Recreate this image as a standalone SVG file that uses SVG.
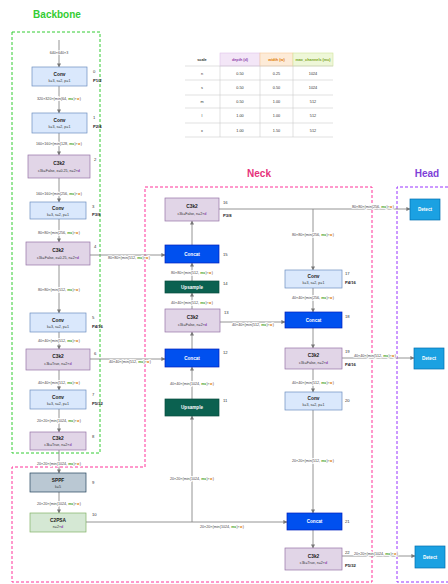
<svg xmlns="http://www.w3.org/2000/svg" width="448" height="584" viewBox="0 0 448 584">
<defs>
<marker id="ah" markerWidth="4" markerHeight="4" refX="3.6" refY="2" orient="auto" markerUnits="userSpaceOnUse"><path d="M0,0 L4,2 L0,4 Z" fill="#777"/></marker>
<style>
text{font-family:"Liberation Sans",Arial,sans-serif;text-anchor:middle}
.title{font-size:10px;font-weight:bold}
.nt{font-size:4.8px;font-weight:bold;fill:#222}
.ns{font-size:3.6px;fill:#333}
.wt{font-size:4.6px;font-weight:bold;fill:#fff}
.idx{font-size:4.2px;fill:#333;text-anchor:start}
.pl{font-size:4.2px;font-weight:bold;fill:#222;text-anchor:start}
.lbl{font-size:3.7px;fill:#444;paint-order:stroke;stroke:#fff;stroke-width:1.6px}
.mc{fill:#3a9a1a;font-weight:bold}
.w{fill:#e07800;font-weight:bold}
.d{fill:#8e44ad;font-weight:bold}
.conv{fill:#dae8fc;stroke:#6c8ebf;stroke-width:0.7}
.c3k2{fill:#e1d5e7;stroke:#9673a6;stroke-width:0.7}
.sppf{fill:#bac8d3;stroke:#23445d;stroke-width:0.7}
.c2psa{fill:#d5e8d4;stroke:#82b366;stroke-width:0.7}
.concat{fill:#0050ef;stroke:#001dbc;stroke-width:0.7}
.ups{fill:#0b6150;stroke:#084a3c;stroke-width:0.7}
.det{fill:#1ba1e2;stroke:#006eaf;stroke-width:0.7}
.edge{fill:none;stroke:#888;stroke-width:0.9}
.arr{marker-end:url(#ah)}
.tc{font-size:3.8px;fill:#333}
.th{font-size:3.8px;font-weight:bold}
.grid{stroke:#ccc;stroke-width:0.6}
</style>
</defs>
<rect width="448" height="584" fill="#fff"/>

<!-- regions -->
<g id="regions">
<rect x="12" y="32" width="88" height="421" fill="none" stroke="#33cc33" stroke-width="1" stroke-dasharray="3 2"/>
<path d="M145,187 H372 V582 H12 V467 H145 Z" fill="none" stroke="#ff3399" stroke-width="1" stroke-dasharray="3 2"/>
<path d="M448,187 H397 V582 H448" fill="none" stroke="#9933ff" stroke-width="1" stroke-dasharray="3 2"/>
<text class="title" x="57" y="18" fill="#33cc33">Backbone</text>
<text class="title" x="259" y="177" fill="#e6317b">Neck</text>
<text class="title" x="427" y="177" fill="#7e3fd8">Head</text>
</g>

<!-- table -->
<g id="table">
<rect x="185" y="53" width="35" height="13" fill="#fff"/>
<rect x="220" y="53" width="40" height="13" fill="#f3e6f7" stroke="#e0c4ea" stroke-width="0.6"/>
<rect x="260" y="53" width="33" height="13" fill="#fdebd8" stroke="#f7c999" stroke-width="0.6"/>
<rect x="293" y="53" width="40" height="13" fill="#eef7d8" stroke="#cfe59a" stroke-width="0.6"/>
<text class="th" x="202" y="61" fill="#333">scale</text>
<text class="th" x="240" y="61" fill="#8e44ad">depth (d)</text>
<text class="th" x="276.5" y="61" fill="#e07800">width (w)</text>
<text class="th" x="313" y="61" fill="#7aa51a">max_channels (mc)</text>
<line class="grid" x1="185" y1="66" x2="333" y2="66"/>
<line class="grid" x1="185" y1="80" x2="333" y2="80"/>
<line class="grid" x1="185" y1="95" x2="333" y2="95" stroke="#aaa"/>
<line class="grid" x1="185" y1="108" x2="333" y2="108"/>
<line class="grid" x1="185" y1="123" x2="333" y2="123" stroke="#999"/>
<line class="grid" x1="185" y1="137" x2="333" y2="137"/>
<line class="grid" x1="220" y1="66" x2="220" y2="137"/>
<line class="grid" x1="260" y1="66" x2="260" y2="137"/>
<line class="grid" x1="293" y1="66" x2="293" y2="137" stroke="#999"/>
<text class="tc" x="202" y="75">n</text><text class="tc" x="240" y="75">0.50</text><text class="tc" x="276.5" y="75">0.25</text><text class="tc" x="313" y="75">1024</text>
<text class="tc" x="202" y="89">s</text><text class="tc" x="240" y="89">0.50</text><text class="tc" x="276.5" y="89">0.50</text><text class="tc" x="313" y="89">1024</text>
<text class="tc" x="202" y="103">m</text><text class="tc" x="240" y="103">0.50</text><text class="tc" x="276.5" y="103">1.00</text><text class="tc" x="313" y="103">512</text>
<text class="tc" x="202" y="117">l</text><text class="tc" x="240" y="117">1.00</text><text class="tc" x="276.5" y="117">1.00</text><text class="tc" x="313" y="117">512</text>
<text class="tc" x="202" y="132">x</text><text class="tc" x="240" y="132">1.00</text><text class="tc" x="276.5" y="132">1.50</text><text class="tc" x="313" y="132">512</text>
</g>

<!-- connectors -->
<g id="connectors">
<line class="edge arr" x1="59" y1="40" x2="59" y2="67"/>
<line class="edge arr" x1="59" y1="86" x2="59" y2="113"/>
<line class="edge arr" x1="59" y1="133" x2="59" y2="155"/>
<line class="edge arr" x1="59" y1="178" x2="59" y2="202"/>
<line class="edge arr" x1="59" y1="218" x2="59" y2="242"/>
<line class="edge arr" x1="59" y1="265" x2="59" y2="313"/>
<line class="edge arr" x1="59" y1="332" x2="59" y2="349"/>
<line class="edge arr" x1="59" y1="370" x2="59" y2="390"/>
<line class="edge arr" x1="59" y1="409" x2="59" y2="432"/>
<line class="edge arr" x1="59" y1="450" x2="59" y2="473"/>
<line class="edge arr" x1="59" y1="492" x2="59" y2="513"/>
<line class="edge arr" x1="90" y1="255" x2="165" y2="255"/>
<line class="edge arr" x1="90" y1="359" x2="165" y2="359"/>
<line class="edge arr" x1="86" y1="522" x2="287" y2="522"/>
<line class="edge arr" x1="192" y1="522" x2="192" y2="416"/>
<line class="edge arr" x1="192" y1="399" x2="192" y2="367"/>
<line class="edge arr" x1="192" y1="349" x2="192" y2="332"/>
<line class="edge arr" x1="192" y1="309" x2="192" y2="293"/>
<line class="edge arr" x1="192" y1="281" x2="192" y2="263"/>
<line class="edge arr" x1="192" y1="245" x2="192" y2="221"/>
<line class="edge arr" x1="219" y1="209" x2="410" y2="209"/>
<line class="edge arr" x1="313" y1="209" x2="313" y2="270"/>
<line class="edge arr" x1="313" y1="288" x2="313" y2="312"/>
<line class="edge arr" x1="220" y1="322" x2="285" y2="322"/>
<line class="edge arr" x1="313" y1="328" x2="313" y2="348"/>
<line class="edge arr" x1="342" y1="358" x2="414" y2="358"/>
<line class="edge arr" x1="313" y1="369" x2="313" y2="392"/>
<line class="edge arr" x1="313" y1="410" x2="313" y2="513"/>
<line class="edge arr" x1="313" y1="530" x2="313" y2="548"/>
<line class="edge arr" x1="342" y1="556" x2="415" y2="556"/>

<text class="lbl" x="59" y="53.5">640×640×3</text>
<text class="lbl" x="59" y="99.5">320×320×(min(64, <tspan class="mc">mc</tspan>)×<tspan class="w">w</tspan>)</text>
<text class="lbl" x="59" y="144.5">160×160×(min(128, <tspan class="mc">mc</tspan>)×<tspan class="w">w</tspan>)</text>
<text class="lbl" x="59" y="194.5">160×160×(min(256, <tspan class="mc">mc</tspan>)×<tspan class="w">w</tspan>)</text>
<text class="lbl" x="59" y="233.5">80×80×(min(256, <tspan class="mc">mc</tspan>)×<tspan class="w">w</tspan>)</text>
<text class="lbl" x="59" y="290.5">80×80×(min(512, <tspan class="mc">mc</tspan>)×<tspan class="w">w</tspan>)</text>
<text class="lbl" x="59" y="341.5">40×40×(min(512, <tspan class="mc">mc</tspan>)×<tspan class="w">w</tspan>)</text>
<text class="lbl" x="59" y="383.5">40×40×(min(512, <tspan class="mc">mc</tspan>)×<tspan class="w">w</tspan>)</text>
<text class="lbl" x="59" y="421.5">20×20×(min(1024, <tspan class="mc">mc</tspan>)×<tspan class="w">w</tspan>)</text>
<text class="lbl" x="59" y="464.5">20×20×(min(1024, <tspan class="mc">mc</tspan>)×<tspan class="w">w</tspan>)</text>
<text class="lbl" x="59" y="504.5">20×20×(min(1024, <tspan class="mc">mc</tspan>)×<tspan class="w">w</tspan>)</text>
<text class="lbl" x="129" y="259">80×80×(min(512, <tspan class="mc">mc</tspan>)×<tspan class="w">w</tspan>)</text>
<text class="lbl" x="130" y="363">40×40×(min(512, <tspan class="mc">mc</tspan>)×<tspan class="w">w</tspan>)</text>
<text class="lbl" x="222" y="528">20×20×(min(1024, <tspan class="mc">mc</tspan>)×<tspan class="w">w</tspan>)</text>
<text class="lbl" x="192" y="479.5">20×20×(min(1024, <tspan class="mc">mc</tspan>)×<tspan class="w">w</tspan>)</text>
<text class="lbl" x="192" y="384.5">40×40×(min(1024, <tspan class="mc">mc</tspan>)×<tspan class="w">w</tspan>)</text>
<text class="lbl" x="192" y="303.5">40×40×(min(512, <tspan class="mc">mc</tspan>)×<tspan class="w">w</tspan>)</text>
<text class="lbl" x="192" y="273.5">80×80×(min(512, <tspan class="mc">mc</tspan>)×<tspan class="w">w</tspan>)</text>
<text class="lbl" x="373" y="208">80×80×(min(256, <tspan class="mc">mc</tspan>)×<tspan class="w">w</tspan>)</text>
<text class="lbl" x="313" y="235.5">80×80×(min(256, <tspan class="mc">mc</tspan>)×<tspan class="w">w</tspan>)</text>
<text class="lbl" x="313" y="298.5">40×40×(min(256, <tspan class="mc">mc</tspan>)×<tspan class="w">w</tspan>)</text>
<text class="lbl" x="253" y="325.5">40×40×(min(512, <tspan class="mc">mc</tspan>)×<tspan class="w">w</tspan>)</text>
<text class="lbl" x="375" y="357">40×40×(min(512, <tspan class="mc">mc</tspan>)×<tspan class="w">w</tspan>)</text>
<text class="lbl" x="313" y="383.5">40×40×(min(512, <tspan class="mc">mc</tspan>)×<tspan class="w">w</tspan>)</text>
<text class="lbl" x="313" y="461.5">20×20×(min(512, <tspan class="mc">mc</tspan>)×<tspan class="w">w</tspan>)</text>
<text class="lbl" x="376" y="555">20×20×(min(1024, <tspan class="mc">mc</tspan>)×<tspan class="w">w</tspan>)</text>
</g>

<!-- backbone nodes -->
<g id="n0"><rect class="conv" x="32" y="67" width="55" height="19"/><text class="nt" x="59.5" y="75.5">Conv</text><text class="ns" x="59.5" y="81.5">k=3, s=2, p=1</text><text class="idx" x="93" y="73">0</text><text class="pl" x="93" y="82">P1/2</text></g>
<g id="n1"><rect class="conv" x="32" y="113" width="55" height="20"/><text class="nt" x="59.5" y="122">Conv</text><text class="ns" x="59.5" y="128">k=3, s=2, p=1</text><text class="idx" x="93" y="119">1</text><text class="pl" x="93" y="128">P2/4</text></g>
<g id="n2"><rect class="c3k2" x="28" y="155" width="62" height="23"/><text class="nt" x="59" y="165">C3k2</text><text class="ns" x="59" y="171.5">c3k=False, e=0.25, n=2×<tspan class="d">d</tspan></text><text class="idx" x="94" y="161">2</text></g>
<g id="n3"><rect class="conv" x="30" y="202" width="56" height="17"/><text class="nt" x="58" y="209.5">Conv</text><text class="ns" x="58" y="215.5">k=3, s=2, p=1</text><text class="idx" x="92" y="208">3</text><text class="pl" x="92" y="216">P3/8</text></g>
<g id="n4"><rect class="c3k2" x="26" y="242" width="64" height="23"/><text class="nt" x="58" y="252">C3k2</text><text class="ns" x="58" y="258.5">c3k=False, e=0.25, n=2×<tspan class="d">d</tspan></text><text class="idx" x="94" y="248">4</text></g>
<g id="n5"><rect class="conv" x="30" y="313" width="56" height="19"/><text class="nt" x="58" y="321.5">Conv</text><text class="ns" x="58" y="327.5">k=3, s=2, p=1</text><text class="idx" x="92" y="319">5</text><text class="pl" x="92" y="328">P4/16</text></g>
<g id="n6"><rect class="c3k2" x="26" y="349" width="64" height="21"/><text class="nt" x="58" y="358">C3k2</text><text class="ns" x="58" y="364.5">c3k=True, n=2×<tspan class="d">d</tspan></text><text class="idx" x="94" y="355">6</text></g>
<g id="n7"><rect class="conv" x="30" y="390" width="56" height="19"/><text class="nt" x="58" y="398.5">Conv</text><text class="ns" x="58" y="404.5">k=3, s=2, p=1</text><text class="idx" x="92" y="396">7</text><text class="pl" x="92" y="405">P5/32</text></g>
<g id="n8"><rect class="c3k2" x="30" y="432" width="56" height="18"/><text class="nt" x="58" y="440">C3k2</text><text class="ns" x="58" y="446">c3k=True, n=2×<tspan class="d">d</tspan></text><text class="idx" x="92" y="438">8</text></g>
<g id="n9"><rect class="sppf" x="30" y="473" width="56" height="19"/><text class="nt" x="58" y="481.5">SPPF</text><text class="ns" x="58" y="487.5">k=5</text><text class="idx" x="92" y="484">9</text></g>
<g id="n10"><rect class="c2psa" x="30" y="513" width="56" height="19"/><text class="nt" x="58" y="521.5">C2PSA</text><text class="ns" x="58" y="527.5">n=2×<tspan class="d">d</tspan></text><text class="idx" x="92" y="516">10</text></g>

<!-- neck middle column -->
<g id="n11"><rect class="ups" x="165" y="399" width="54" height="17"/><text class="wt" x="192" y="409">Upsample</text><text class="idx" x="223" y="402">11</text></g>
<g id="n12"><rect class="concat" x="165" y="349" width="54" height="18"/><text class="wt" x="192" y="359.5">Concat</text><text class="idx" x="223" y="354">12</text></g>
<g id="n13"><rect class="c3k2" x="165" y="309" width="55" height="23"/><text class="nt" x="192.5" y="319">C3k2</text><text class="ns" x="192.5" y="325.5">c3k=False, n=2×<tspan class="d">d</tspan></text><text class="idx" x="224" y="314">13</text></g>
<g id="n14"><rect class="ups" x="165" y="281" width="54" height="12"/><text class="wt" x="192" y="288.5">Upsample</text><text class="idx" x="223" y="285">14</text></g>
<g id="n15"><rect class="concat" x="165" y="245" width="54" height="18"/><text class="wt" x="192" y="255.5">Concat</text><text class="idx" x="223" y="256">15</text></g>
<g id="n16"><rect class="c3k2" x="165" y="198" width="54" height="23"/><text class="nt" x="192" y="208">C3k2</text><text class="ns" x="192" y="214.5">c3k=False, n=2×<tspan class="d">d</tspan></text><text class="idx" x="223" y="204">16</text><text class="pl" x="223" y="217">P3/8</text></g>

<!-- neck right column -->
<g id="n17"><rect class="conv" x="285" y="270" width="57" height="18"/><text class="nt" x="313.5" y="278">Conv</text><text class="ns" x="313.5" y="284">k=3, s=2, p=1</text><text class="idx" x="345" y="275">17</text><text class="pl" x="345" y="284">P4/16</text></g>
<g id="n18"><rect class="concat" x="285" y="312" width="57" height="16"/><text class="wt" x="313.5" y="321.5">Concat</text><text class="idx" x="345" y="318">18</text></g>
<g id="n19"><rect class="c3k2" x="285" y="348" width="57" height="21"/><text class="nt" x="313.5" y="357">C3k2</text><text class="ns" x="313.5" y="363.5">c3k=False, n=2×<tspan class="d">d</tspan></text><text class="idx" x="345" y="353">19</text><text class="pl" x="345" y="366">P4/16</text></g>
<g id="n20"><rect class="conv" x="285" y="392" width="57" height="18"/><text class="nt" x="313.5" y="400">Conv</text><text class="ns" x="313.5" y="406">k=3, s=2, p=1</text><text class="idx" x="345" y="402">20</text></g>
<g id="n21"><rect class="concat" x="287" y="513" width="55" height="17"/><text class="wt" x="314.5" y="523">Concat</text><text class="idx" x="345" y="523">21</text></g>
<g id="n22"><rect class="c3k2" x="285" y="548" width="57" height="22"/><text class="nt" x="313.5" y="557.5">C3k2</text><text class="ns" x="313.5" y="564">c3k=True, n=2×<tspan class="d">d</tspan></text><text class="idx" x="345" y="554">22</text><text class="pl" x="345" y="567">P5/32</text></g>

<!-- head -->
<g id="d1"><rect class="det" x="410" y="199" width="30" height="21"/><text class="wt" x="425" y="211">Detect</text></g>
<g id="d2"><rect class="det" x="414" y="348" width="30" height="21"/><text class="wt" x="429" y="360">Detect</text></g>
<g id="d3"><rect class="det" x="415" y="546" width="30" height="22"/><text class="wt" x="430" y="558.5">Detect</text></g>
</svg>
